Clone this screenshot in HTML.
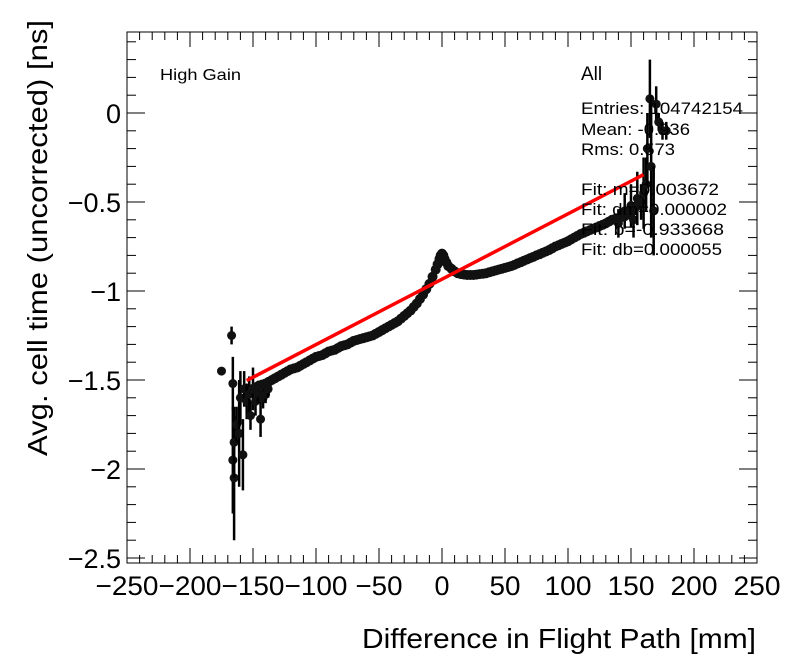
<!DOCTYPE html>
<html><head><meta charset="utf-8"><style>
html,body{margin:0;padding:0;background:#fff;}
svg{display:block;font-family:"Liberation Sans",sans-serif;}
</style></head><body>
<svg id="chart" width="796" height="672" viewBox="0 0 796 672" xmlns="http://www.w3.org/2000/svg">
<rect x="0" y="0" width="796" height="672" fill="#fff"/>
<g id="axes"></g>
<g id="data"></g>
<line id="fit" stroke="#ff0000" stroke-width="3.5"/>
<text x="160" y="80" font-size="16" textLength="81" lengthAdjust="spacingAndGlyphs">High Gain</text>
<g font-size="17">
<text x="581" y="80" font-size="19">All</text>
<text x="581" y="114" textLength="162" lengthAdjust="spacingAndGlyphs">Entries: 104742154</text>
<text x="581" y="135" textLength="109" lengthAdjust="spacingAndGlyphs">Mean: -0.936</text>
<text x="581" y="155" textLength="94" lengthAdjust="spacingAndGlyphs">Rms: 0.573</text>
<text x="581" y="195" textLength="138" lengthAdjust="spacingAndGlyphs">Fit: m=0.003672</text>
<text x="581" y="215" textLength="146" lengthAdjust="spacingAndGlyphs">Fit: dm=0.000002</text>
<text x="581" y="235" textLength="143" lengthAdjust="spacingAndGlyphs">Fit: b=-0.933668</text>
<text x="581" y="255" textLength="141" lengthAdjust="spacingAndGlyphs">Fit: db=0.000055</text>
</g>
<text x="756" y="648" font-size="28" text-anchor="end" textLength="394" lengthAdjust="spacingAndGlyphs">Difference in Flight Path [mm]</text>
<text transform="translate(47,456) rotate(-90)" font-size="28" textLength="436" lengthAdjust="spacingAndGlyphs">Avg. cell time (uncorrected) [ns]</text>
</svg>
<script>
const xVals=[-150,-147.5,-145,-142.5,-140,-137.5,-135,-132.5,-130,-127.5,-125,-122.5,-120,-117.5,-115,-112.5,-110,-107.5,-105,-102.5,-100,-97.5,-95,-92.5,-90,-87.5,-85,-82.5,-80,-77.5,-75,-72.5,-70,-67.5,-65,-62.5,-60,-57.5,-55,-52.5,-50,-47.5,-45,-42.5,-40,-37.5,-35,-32.5,-30,-27.5,-25,-22.5,-20,-17.5,-15,-12.5,-10,-7.5,-5,-3.5,-2,-1,0,1,2,3.5,5,7.5,10,12.5,15,17.5,20,22.5,25,27.5,30,32.5,35,37.5,40,42.5,45,47.5,50,52.5,55,57.5,60,62.5,65,67.5,70,72.5,75,77.5,80,82.5,85,87.5,90,92.5,95,97.5,100,102.5,105,107.5,110,112.5,115,117.5,120,122.5,125,127.5,130,132.5,135,137.5,140,142.5,145,147.5,150,152.5,155];
const yVals=[-1.55,-1.54,-1.53,-1.525,-1.52,-1.51,-1.50,-1.49,-1.48,-1.47,-1.46,-1.45,-1.44,-1.435,-1.43,-1.42,-1.41,-1.40,-1.39,-1.38,-1.37,-1.365,-1.36,-1.35,-1.34,-1.335,-1.33,-1.32,-1.31,-1.305,-1.30,-1.29,-1.28,-1.275,-1.27,-1.265,-1.26,-1.255,-1.25,-1.24,-1.23,-1.22,-1.21,-1.20,-1.19,-1.18,-1.17,-1.155,-1.14,-1.125,-1.11,-1.09,-1.07,-1.045,-1.02,-0.99,-0.96,-0.92,-0.88,-0.85,-0.82,-0.80,-0.79,-0.80,-0.82,-0.84,-0.86,-0.875,-0.89,-0.90,-0.905,-0.908,-0.91,-0.91,-0.91,-0.908,-0.905,-0.903,-0.90,-0.895,-0.89,-0.885,-0.88,-0.875,-0.87,-0.865,-0.86,-0.853,-0.845,-0.838,-0.83,-0.823,-0.815,-0.808,-0.80,-0.793,-0.785,-0.778,-0.77,-0.76,-0.75,-0.743,-0.735,-0.728,-0.72,-0.71,-0.70,-0.69,-0.68,-0.673,-0.665,-0.658,-0.65,-0.643,-0.635,-0.628,-0.62,-0.61,-0.60,-0.595,-0.59,-0.585,-0.58,-0.57,-0.56,-0.54,-0.52];
const noiseX=[-175,-167,-166,-166,-165,-165,-163,-161,-160,-158,-157,-155,-153,-152,-150,-148,-146,-144,-142,-140,-138,140,145,150,152,155,158,160,162,163,165,166,168,170,172,175,178];
const noiseY=[-1.45,-1.25,-1.52,-1.95,-2.05,-1.85,-1.75,-1.80,-1.60,-1.92,-1.55,-1.62,-1.58,-1.70,-1.55,-1.62,-1.57,-1.72,-1.60,-1.58,-1.55,-0.62,-0.55,-0.52,-0.60,-0.48,-0.50,-0.45,-0.40,-0.20,0.08,-0.30,-0.55,0.05,-0.05,-0.10,-0.10];
const noiseErr=[0.02,0.05,0.15,0.3,0.35,0.2,0.1,0.3,0.15,0.2,0.1,0.1,0.1,0.08,0.12,0.08,0.06,0.1,0.06,0.05,0.05,0.08,0.1,0.12,0.1,0.15,0.1,0.2,0.15,0.2,0.22,0.4,0.25,0.1,0.05,0.05,0.05];
const fitM=0.003672, fitB=-0.933668, fitX0=-155, fitX1=160;
const xTicks=[-250,-200,-150,-100,-50,0,50,100,150,200,250];
const yTicks=[0,-0.5,-1,-1.5,-2,-2.5];
const L=127,R=757,T=32,B=563;
const xs=v=>442+v*1.26;
const ys=v=>113-v*178;
const NS="http://www.w3.org/2000/svg";
function mk(tag,attrs,parent){const e=document.createElementNS(NS,tag);for(const k in attrs)e.setAttribute(k,attrs[k]);parent.appendChild(e);return e;}
const ax=document.getElementById('axes');
const frame=mk('rect',{x:L,y:T,width:R-L,height:B-T,fill:'none',stroke:'#000','stroke-width':1},ax);


for(let v=-250;v<=250;v+=10){const maj=v%50===0;const l=maj?15:8;const X=xs(v);
mk('line',{x1:X,y1:B,x2:X,y2:B-l,stroke:'#000'},ax);mk('line',{x1:X,y1:T,x2:X,y2:T+l,stroke:'#000'},ax);}
for(let i=-25;i<=4;i++){const v=i/10;const maj=i%5===0;const l=maj?18:9;const Y=ys(v);if(Y<T||Y>B)continue;
mk('line',{x1:L,y1:Y,x2:L+l,y2:Y,stroke:'#000'},ax);mk('line',{x1:R,y1:Y,x2:R-l,y2:Y,stroke:'#000'},ax);}
xTicks.forEach(v=>{const s=v<0?'\u2212'+(-v):String(v);const t=mk('text',{x:xs(v),y:595,'font-size':27,'text-anchor':'middle',textLength:16*s.length-1,lengthAdjust:'spacingAndGlyphs'},ax);t.textContent=s;

});
yTicks.forEach(v=>{const t=mk('text',{x:121,y:ys(v)+10,'font-size':27,'text-anchor':'end'},ax);t.textContent=v<0?'\u2212'+(-v):String(v);

});
const dg=document.getElementById('data');
for(let i=0;i<noiseX.length;i++){const X=xs(noiseX[i]);
const el=mk('line',{x1:X,y1:ys(noiseY[i]+noiseErr[i]),x2:X,y2:ys(noiseY[i]-noiseErr[i]),stroke:'#000','stroke-width':2.5},dg);


const c=mk('circle',{cx:X,cy:ys(noiseY[i]),r:4.5,fill:'#111'},dg);

}
for(let i=0;i<xVals.length;i++){const c=mk('circle',{cx:xs(xVals[i]),cy:ys(yVals[i]),r:5,fill:'#111'},dg);

}
const f=document.getElementById('fit');
f.setAttribute('x1',xs(fitX0));f.setAttribute('y1',ys(fitM*fitX0+fitB));
f.setAttribute('x2',xs(fitX1));f.setAttribute('y2',ys(fitM*fitX1+fitB));
</script>
</body></html>
